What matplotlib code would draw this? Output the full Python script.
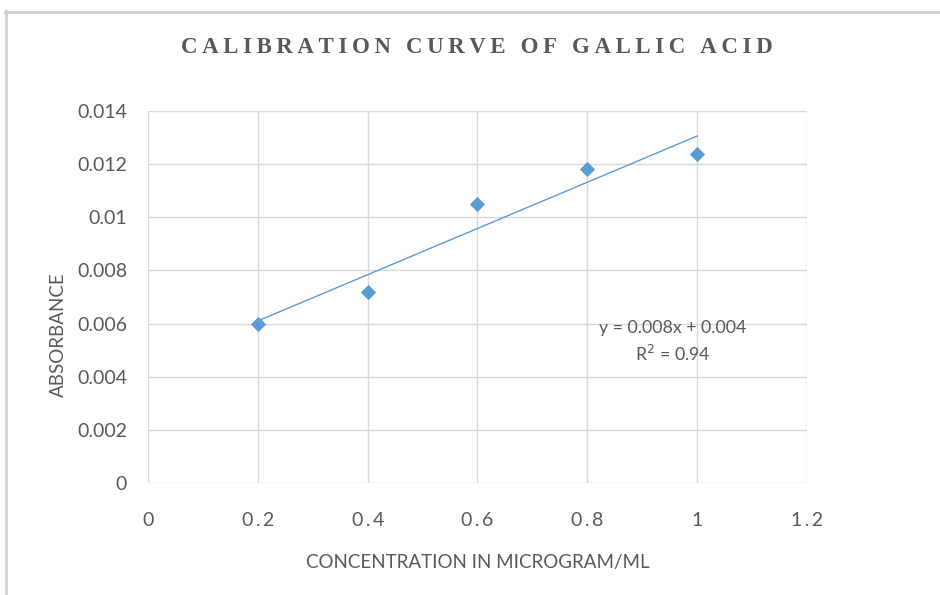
import numpy as np
import matplotlib
matplotlib.use("Agg")
import matplotlib.pyplot as plt
from matplotlib.font_manager import findfont, FontProperties
from matplotlib.lines import Line2D

# Data
concentration = [0.2, 0.4, 0.6, 0.8, 1.0]
absorbance = [0.006, 0.0072, 0.0105, 0.0118, 0.0124]
x_ticks = [0, 0.2, 0.4, 0.6, 0.8, 1.0, 1.2]
x_tick_labels = ["0", "0.2", "0.4", "0.6", "0.8", "1", "1.2"]
y_ticks = [0, 0.002, 0.004, 0.006, 0.008, 0.01, 0.012, 0.014]
y_tick_labels = ["0", "0.002", "0.004", "0.006", "0.008", "0.01", "0.012", "0.014"]
title = "CALIBRATION CURVE OF GALLIC ACID"
x_label = "CONCENTRATION IN MICROGRAM/ML"
y_label = "ABSORBANCE"
eq_text = "y = 0.008x + 0.004\nR$^2$ = 0.94"

def fam(name, fallback="DejaVu Sans"):
    try:
        findfont(FontProperties(family=name), fallback_to_default=False)
        return [name, fallback]
    except Exception:
        return [fallback]

narrow = fam("Lato")
tickfont = fam("Lato")
serif = fam("Liberation Serif", "DejaVu Serif")

text_color = "#595959"
grid_color = "#D9D9D9"
blue = "#5B9BD5"

fig = plt.figure(figsize=(9.4, 5.95), dpi=100)
ax = fig.add_axes([0.1574, 0.1882, 0.8585 - 0.1574, 0.8134 - 0.1882])

ax.scatter(concentration, absorbance, marker="D", s=60, color=blue, zorder=3, linewidths=0)

# Linear trendline
coef = np.polyfit(concentration, absorbance, 1)
xs = np.array([min(concentration), max(concentration)])
ax.plot(xs, np.polyval(coef, xs), color=blue, lw=1.0, zorder=2)

ax.set_xlim(0, 1.2)
ax.set_ylim(0, 0.014)
ax.set_xticks(x_ticks)
ax.set_xticklabels(["\u2009".join(list(l)) for l in x_tick_labels],
                   family=tickfont, fontsize=14, color=text_color)
ax.set_yticks(y_ticks)
ax.set_yticklabels(y_tick_labels, family=tickfont, fontsize=14, color=text_color)
ax.tick_params(length=0)
ax.tick_params(axis="x", pad=21)
ax.tick_params(axis="y", pad=15)
ax.grid(True, color=grid_color, lw=1)
ax.set_axisbelow(True)
for s in ax.spines.values():
    s.set_visible(False)

# letter-spaced serif title
spaced = "\u2009".join(list(title))
fig.text(0.5075, 0.921, spaced, ha="center", va="center", family=serif,
         fontsize=16.5, fontweight="bold", color=text_color)

fig.text(0.508, 0.054, x_label, ha="center", va="center", family=narrow,
         fontsize=13.5, color=text_color)
fig.text(0.062, 0.437, y_label, ha="center", va="center", rotation=90,
         family=narrow, fontsize=13.5, color=text_color)

ax.text(0.955, 0.0053, eq_text, ha="center", va="center", family=narrow,
        fontsize=12.8, color=text_color, linespacing=1.45)

# chart frame lines (top and left)
fig.add_artist(Line2D([0.0055, 1.0], [0.9798, 0.9798], transform=fig.transFigure,
                      color="#D0D0D0", lw=2))
fig.add_artist(Line2D([0.0065, 0.0065], [0.0, 0.981], transform=fig.transFigure,
                      color="#D0D0D0", lw=2))

fig.savefig("out.png", dpi=100)
